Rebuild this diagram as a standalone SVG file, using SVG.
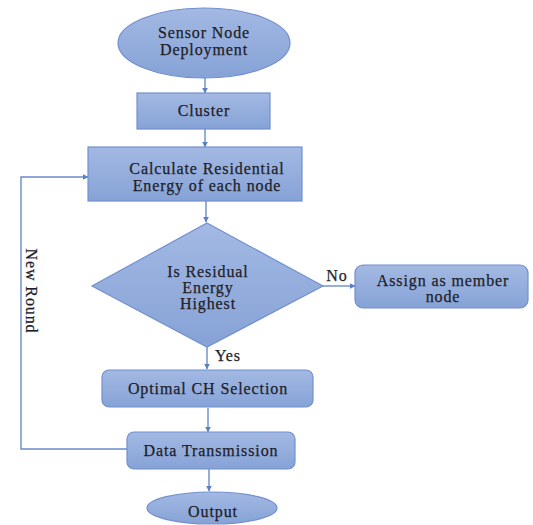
<svg xmlns="http://www.w3.org/2000/svg" width="533" height="525" viewBox="0 0 533 525">
<defs>
<linearGradient id="g" x1="0" y1="0" x2="0" y2="1">
<stop offset="0" stop-color="#a3b9e3"/>
<stop offset="1" stop-color="#86a2d6"/>
</linearGradient>
<marker id="ah" viewBox="0 0 10 10" refX="9" refY="5" markerWidth="6" markerHeight="6" orient="auto" markerUnits="userSpaceOnUse">
<path d="M0,0 L10,5 L0,10 z" fill="#5b7fc4"/>
</marker>
<style>
.s{fill:url(#g);stroke:#7190cf;stroke-width:1.2}
.t{font-family:'Liberation Serif','Times New Roman',serif;font-size:16px;letter-spacing:0.9px;fill:#1e1e28;stroke:#1e1e28;stroke-width:0.25;text-anchor:middle}
.c{fill:none;stroke:#6a8bcb;stroke-width:1.4;marker-end:url(#ah)}
</style>
</defs>
<rect width="533" height="525" fill="#ffffff"/>
<g id="connectors" font-family="Liberation Serif, serif">
<line class="c" x1="205" y1="78" x2="205" y2="93"/>
<line class="c" x1="205" y1="129" x2="205" y2="147"/>
<line class="c" x1="206" y1="201" x2="206" y2="222"/>
<line class="c" x1="323" y1="286" x2="355" y2="286"/>
<line class="c" x1="207" y1="347" x2="207" y2="369"/>
<line class="c" x1="208" y1="408" x2="208" y2="432"/>
<line class="c" x1="209" y1="469" x2="209" y2="491"/>
<polyline class="c" points="127,449 21,449 21,177 88,177"/>
<text class="t" x="337" y="281">No</text>
<text class="t" x="228" y="361">Yes</text>
<text class="t" transform="translate(26,291) rotate(90)">New Round</text>
</g>
<g id="sensor" font-family="Liberation Serif, serif">
<ellipse class="s" cx="204" cy="43" rx="86" ry="35"/>
<text class="t" x="204" y="38">Sensor Node</text>
<text class="t" x="204" y="55">Deployment</text>
</g>
<g id="cluster" font-family="Liberation Serif, serif">
<rect class="s" x="137" y="93" width="133" height="36"/>
<text class="t" x="204" y="116">Cluster</text>
</g>
<g id="calc" font-family="Liberation Serif, serif">
<rect class="s" x="88" y="147" width="214" height="54"/>
<text class="t" x="207" y="174">Calculate Residential</text>
<text class="t" x="207" y="191">Energy of each node</text>
</g>
<g id="decision" font-family="Liberation Serif, serif">
<polygon class="s" points="207,223 323,286 207,347 92,286"/>
<text class="t" x="208" y="277">Is Residual</text>
<text class="t" x="208" y="293">Energy</text>
<text class="t" x="208" y="309">Highest</text>
</g>
<g id="assign" font-family="Liberation Serif, serif">
<rect class="s" x="355" y="265" width="173" height="43" rx="8"/>
<text class="t" x="443" y="286">Assign as member</text>
<text class="t" x="443" y="302">node</text>
</g>
<g id="optimal" font-family="Liberation Serif, serif">
<rect class="s" x="102" y="370" width="211" height="37" rx="7"/>
<text class="t" x="208" y="394">Optimal CH Selection</text>
</g>
<g id="data" font-family="Liberation Serif, serif">
<rect class="s" x="127" y="432" width="168" height="37" rx="7"/>
<text class="t" x="211" y="456">Data Transmission</text>
</g>
<g id="output" font-family="Liberation Serif, serif">
<ellipse class="s" cx="212" cy="508" rx="65" ry="16"/>
<text class="t" x="213" y="517">Output</text>
</g>
</svg>
